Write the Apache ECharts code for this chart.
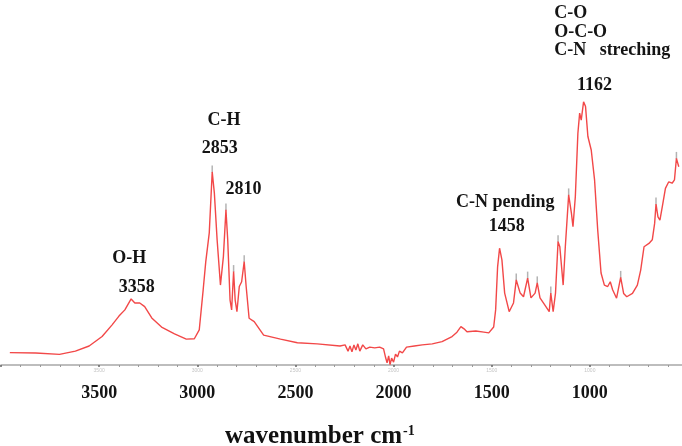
<!DOCTYPE html>
<html>
<head>
<meta charset="utf-8">
<script src="https://cdn.jsdelivr.net/npm/echarts@6/dist/echarts.min.js"></script>
<style>
  html, body { margin: 0; padding: 0; background: #fff; overflow: hidden; width: 682px; height: 446px; }
  /* the axis runs 4000..500, a little wider than the window, so the box is widened past both edges */
  #chart { position: absolute; left: -2px; top: 0; width: 693px; height: 446px; }
</style>
</head>
<body>
<div id="chart"></div>
<script>
// wavenumber (cm-1) and relative absorbance
const wavenumbers = [
  3955, 3823, 3702, 3621, 3551, 3485, 3434, 3399, 3369, 3337, 3318, 3293, 3268, 3232, 3182,
  3116, 3056, 3015, 2990, 2970, 2957, 2939, 2924, 2913, 2899, 2882, 2867, 2854, 2845, 2833,
  2825, 2815, 2807, 2798, 2786, 2774, 2761, 2751, 2736, 2710, 2662, 2576, 2490, 2389, 2273,
  2247, 2232, 2222, 2212, 2202, 2192, 2182, 2172, 2157, 2141, 2121, 2096, 2071, 2051, 2040,
  2033, 2025, 2018, 2010, 2000, 1990, 1980, 1970, 1955, 1934, 1894, 1854, 1803, 1753, 1702,
  1677, 1657, 1641, 1626, 1581, 1540, 1515, 1490, 1480, 1470, 1460, 1448, 1434, 1411, 1389,
  1375, 1355, 1338, 1317, 1300, 1279, 1268, 1254, 1229, 1207, 1199, 1187, 1175, 1162, 1153,
  1136, 1125, 1108, 1094, 1086, 1074, 1061, 1052, 1044, 1032, 1022, 1010, 993, 976, 960,
  943, 926, 909, 896, 884, 864, 843, 828, 812, 783, 758, 741, 724, 699, 682,
  670, 663, 653, 643, 628, 615, 598, 581, 569, 559, 547
];
const absorbance = [
  3.4, 3.3, 2.9, 3.8, 5.2, 7.8, 11.0, 13.4, 15.1, 18.1, 17.0, 17.0, 16.0, 12.9, 10.4,
  8.5, 7.1, 7.2, 9.6, 20.6, 28.2, 36.2, 52.9, 47.1, 34.3, 21.9, 29.7, 42.5, 34.3, 17.8,
  15.1, 25.6, 17.8, 14.6, 21.5, 22.8, 28.3, 21.5, 12.8, 11.9, 8.2, 7.1, 6.1, 5.8, 5.2,
  5.5, 3.8, 5.2, 3.6, 5.5, 4.1, 5.8, 3.8, 5.5, 4.4, 4.9, 4.7, 4.9, 4.4, 1.9,
  0.6, 2.5, 0.1, 1.9, 0.8, 3.0, 2.2, 3.8, 3.3, 4.9, 5.2, 5.5, 5.8, 6.4, 7.8,
  9.0, 10.5, 9.9, 9.1, 9.3, 9.0, 8.8, 10.4, 15.1, 26.9, 32.0, 28.8, 19.7, 14.6, 17.0,
  23.3, 19.7, 18.7, 23.8, 18.4, 19.7, 22.5, 18.4, 16.4, 14.6, 19.7, 14.6, 19.7, 33.8, 32.4,
  21.9, 32.4, 46.6, 41.6, 37.9, 46.1, 63.5, 69.0, 67.1, 72.1, 70.8, 62.6, 58.9, 50.7, 37.0,
  25.2, 21.9, 21.5, 22.8, 20.6, 18.3, 24.0, 19.6, 18.7, 19.6, 21.9, 26.0, 32.4, 33.3, 34.3,
  38.8, 44.1, 40.6, 39.7, 44.3, 48.4, 50.2, 49.8, 50.7, 56.6, 54.3
];
const tickLabels = ['1000', '1500', '2000', '2500', '3000', '3500'];

// peaks that carry the small grey pick marks
const pickedPeaks = [2924, 2854, 2815, 2761, 1375, 1317, 1268, 1199, 1162, 1108, 843, 663, 559];

// band labels written on the plot: text, anchor wavenumber, anchor height, alignment
const annotations = [
  ['O-H', 3346, 29.3, 'center'],
  ['3358', 3308, 21.4, 'center'],
  ['C-H', 2864, 66.9, 'center'],
  ['2853', 2886, 59.4, 'center'],
  ['2810', 2765, 48.1, 'center'],
  ['C-N pending', 1431, 44.7, 'center'],
  ['1458', 1424, 37.9, 'center'],
  ['C-O', 1182, 96.4, 'left'],
  ['O-C-O', 1182, 91.2, 'left'],
  ['C-N   streching', 1182, 86.1, 'left'],
  ['1162', 976, 76.7, 'center']
];

const serif = '"Liberation Serif", "DejaVu Serif", serif';
const chart = echarts.init(document.getElementById('chart'));

const spectrum = wavenumbers.map((w, i) => [w, absorbance[i]]);
const picks = pickedPeaks.map((w) => [w, absorbance[wavenumbers.indexOf(w)]]);
const showTick = (v) => (tickLabels.indexOf(String(v)) >= 0 ? String(v) : '');

const option = {
  animation: false,
  backgroundColor: '#fff',
  title: {
    left: 222,
    top: 419,
    text: '{a|wavenumber cm}{b|-1}',
    textStyle: {
      rich: {
        a: { fontFamily: serif, fontWeight: 'bold', fontSize: 25, color: '#111', lineHeight: 26 },
        b: { fontFamily: serif, fontWeight: 'bold', fontSize: 14, color: '#111', lineHeight: 26, verticalAlign: 'top', padding: [0, 0, 12, 1] }
      }
    }
  },
  grid: { left: 0, right: 0, top: 0, bottom: 81 },
  xAxis: [
    {
      type: 'value',
      inverse: true,
      min: 500,
      max: 4000,
      interval: 500,
      axisLine: { show: true, lineStyle: { color: '#a8a8a8', width: 1.5 } },
      axisTick: { show: true, length: 2, lineStyle: { color: '#666', width: 1.5 } },
      minorTick: { show: true, splitNumber: 5, length: 2, lineStyle: { color: '#999' } },
      splitLine: { show: false },
      axisLabel: {
        margin: 19,
        fontFamily: serif,
        fontWeight: 'bold',
        fontSize: 18,
        color: '#141414',
        formatter: showTick
      }
    },
    {
      type: 'value',
      inverse: true,
      position: 'bottom',
      min: 500,
      max: 4000,
      interval: 500,
      axisLine: { show: false },
      axisTick: { show: false },
      splitLine: { show: false },
      axisLabel: { margin: 3, fontSize: 5, color: '#c4c4c4', formatter: showTick }
    }
  ],
  yAxis: { type: 'value', min: 0, max: 100, show: false },
  series: [
    {
      type: 'line',
      data: spectrum,
      symbol: 'none',
      lineStyle: { color: '#f24848', width: 1.4 },
      clip: false,
      z: 3,
      markPoint: {
        symbol: 'circle',
        symbolSize: 1,
        itemStyle: { color: 'rgba(0,0,0,0)' },
        label: {
          show: true,
          position: 'inside',
          fontFamily: serif,
          fontWeight: 'bold',
          fontSize: 18,
          color: '#141414'
        },
        data: annotations.map(([text, w, v, align]) => ({
          coord: [w, v],
          label: { formatter: text, align: align }
        }))
      }
    },
    {
      type: 'scatter',
      data: picks,
      symbol: 'rect',
      symbolSize: [1.5, 7],
      symbolOffset: [0, -3],
      itemStyle: { color: '#a0a0a0' },
      z: 2,
      silent: true
    }
  ]
};

chart.setOption(option);
</script>
</body>
</html>
